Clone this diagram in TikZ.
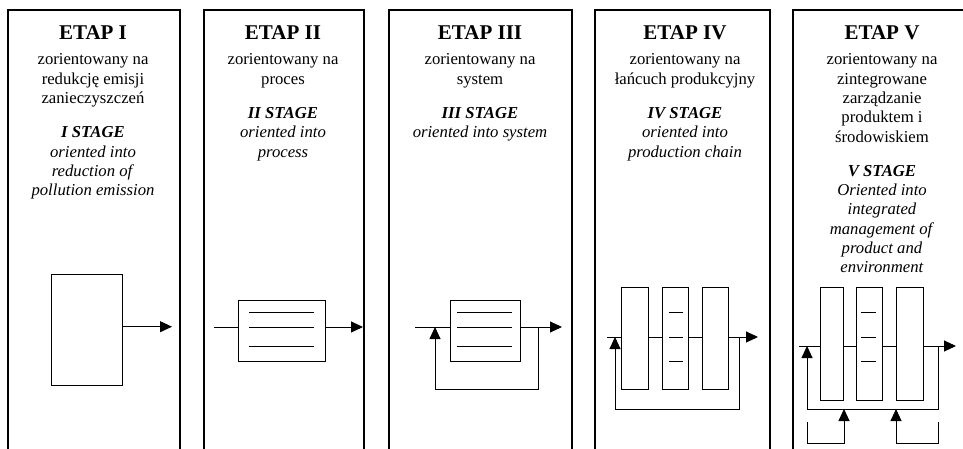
\documentclass[tikz,border=0pt]{standalone}
\usepackage{fontspec}
\setmainfont{Liberation Serif}
\usetikzlibrary{arrows.meta}
\usetikzlibrary{positioning}

\begin{document}
\begin{tikzpicture}[x=1pt,y=-1pt,
    frame/.style={line width=1.2pt},
    flow/.style={line width=0.9pt},
    arr/.style={line width=0.9pt,-{Triangle[length=12pt,width=11pt]}},
    box/.style={draw,line width=0.9pt,rectangle,inner sep=0pt},
    head/.style={anchor=base,inner sep=0pt,font=\fontsize{21}{21}\selectfont\bfseries},
    txt/.style={align=center,anchor=north,inner sep=0pt,font=\fontsize{16.7}{19.3}\selectfont}]

    \useasboundingbox(0,0)rectangle(963,449);

    % ramki etapow
    \draw[frame](8,450)|-(180,10)--(180,450);
    \draw[frame](204,450)|-(364,10)--(364,450);
    \draw[frame](389,450)|-(572,10)--(572,450);
    \draw[frame](595,450)|-(770,10)--(770,450);
    \draw[frame](793,450)|-(975,10)--(975,450);

    \node[head](h1)at(93,40){ETAP I};
    \node[head](h2)at(283,40){ETAP II};
    \node[head](h3)at(480,40){ETAP III};
    \node[head](h4)at(685,40){ETAP IV};
    \node[head](h5)at(882,40){ETAP V};

    \node[txt](t1)at(93,53.6){zorientowany na\\redukcję emisji\\zanieczyszczeń\\[15pt]\textbf{\textit{I STAGE}}\\\textit{oriented into}\\\textit{reduction of}\\\textit{pollution emission}};
    \node[txt](t2)at(283,53.6){zorientowany na\\proces\\[15pt]\textbf{\textit{II STAGE}}\\\textit{oriented into}\\\textit{process}};
    \node[txt](t3)at(480,53.6){zorientowany na\\system\\[15pt]\textbf{\textit{III STAGE}}\\\textit{oriented into system}};
    \node[txt](t4)at(685,53.6){zorientowany na\\łańcuch produkcyjny\\[15pt]\textbf{\textit{IV STAGE}}\\\textit{oriented into}\\\textit{production chain}};
    \node[txt](t5)at(882,53.6){zorientowany na\\zintegrowane\\zarządzanie\\produktem i\\środowiskiem\\[15pt]\textbf{\textit{V STAGE}}\\\textit{Oriented into}\\\textit{integrated}\\\textit{management of}\\\textit{product and}\\\textit{environment}};

    % etap I
    \node[box,minimum width=71pt,minimum height=111pt](r1)at(86.5,329.5){};
    \coordinate(o1)at(172,326.7);
    \draw[arr](r1.east|-o1)--(o1);

    % etap II
    \node[box,minimum width=87pt,minimum height=61pt](r2)at(281.5,330.5){};
    \draw[flow](249,312)--(314,312);
    \draw[flow](249,327)--(314,327);
    \draw[flow](249,346)--(314,346);
    \coordinate(i2)at(214,327);
    \coordinate(o2)at(363,327);
    \draw[flow](i2)--(r2.west|-i2);
    \draw[arr](r2.east|-i2)--(o2);

    % etap III
    \node[box,minimum width=70pt,minimum height=61pt](r3)at(485,330.5){};
    \draw[flow](457,312)--(512,312);
    \draw[flow](457,327)--(512,327);
    \draw[flow](457,346)--(512,346);
    \coordinate(i3)at(415,327);
    \coordinate(o3)at(562,327);
    \coordinate(s3)at(538,327);
    \coordinate(f3)at(435,327);
    \draw[flow](i3)--(r3.west|-i3);
    \draw[arr](r3.east|-i3)--(o3);
    \draw[arr](s3)--++(0,62)-|(f3);

    % etap IV
    \node[box,minimum width=27pt,minimum height=102pt](r4a)at(634.5,338){};
    \node[box,minimum width=26pt,minimum height=102pt](r4b)at(675,338){};
    \node[box,minimum width=26pt,minimum height=102pt](r4c)at(715,338){};
    \draw[flow](669,312)--(683,312);
    \draw[flow](669,337)--(683,337);
    \draw[flow](669,361)--(683,361);
    \coordinate(i4)at(607,337);
    \coordinate(o4)at(758,337);
    \coordinate(s4)at(739,337);
    \coordinate(f4)at(615,337);
    \draw[flow](i4)--(r4a.west|-i4);
    \draw[flow](r4a.east|-i4)--(r4b.west|-i4);
    \draw[flow](r4b.east|-i4)--(r4c.west|-i4);
    \draw[arr](r4c.east|-i4)--(o4);
    \draw[arr](s4)--++(0,72)-|(f4);

    % etap V
    \node[box,minimum width=23pt,minimum height=113pt](r5a)at(831.5,343.5){};
    \node[box,minimum width=26pt,minimum height=113pt](r5b)at(869,343.5){};
    \node[box,minimum width=27pt,minimum height=113pt](r5c)at(909.5,343.5){};
    \draw[flow](861,312)--(876,312);
    \draw[flow](861,337)--(876,337);
    \draw[flow](861,361)--(876,361);
    \coordinate(i5)at(799,346);
    \coordinate(o5)at(956,346);
    \coordinate(s5)at(938,346);
    \coordinate(f5)at(807,346);
    \draw[flow](i5)--(r5a.west|-i5);
    \draw[flow](r5a.east|-i5)--(r5b.west|-i5);
    \draw[flow](r5b.east|-i5)--(r5c.west|-i5);
    \draw[arr](r5c.east|-i5)--(o5);
    \draw[arr](s5)--++(0,63)-|(f5);
    \coordinate(l5)at(807,422);
    \coordinate(m5)at(844,409);
    \coordinate(q5)at(938,422);
    \coordinate(n5)at(896,409);
    \draw[arr](l5)--++(0,21)-|(m5);
    \draw[arr](q5)--++(0,21)-|(n5);

\end{tikzpicture}
\end{document}
